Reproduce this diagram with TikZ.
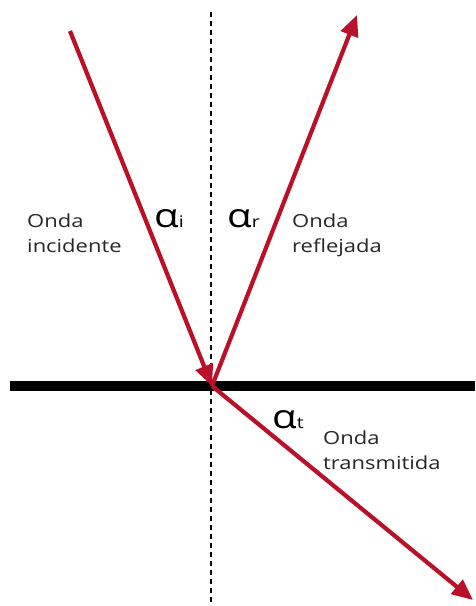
\documentclass[tikz,border=0pt]{standalone}
\usepackage{fontspec}
\newfontfamily\labelfont[FakeStretch=1.22]{Open Sans}
\usepackage{xcolor}
\usetikzlibrary{arrows.meta}
\definecolor{rayred}{RGB}{186,16,42}

\begin{document}
\begin{tikzpicture}[x=1pt,y=-1pt,
  ray/.style={line width=4.2, color=rayred, -{Triangle[length=21,width=18]}},
  wavetext/.style={font=\labelfont\fontsize{18}{25}\selectfont, text=black!85, align=left, anchor=north west, inner sep=0},
  angletext/.style={font=\labelfont, anchor=base west, inner sep=0}]
\useasboundingbox (0,0) rectangle (475,606);
%points
\coordinate (O) at (212,386);
\coordinate (src) at (70,31);
\coordinate (refl) at (357,15);
\coordinate (trans) at (473,600);
\coordinate (top) at (211,12);
\coordinate (bot) at (211,606);
\coordinate (left) at (10,386);
\coordinate (right) at (475,386);
%normal and surface
\draw[line width=1.6, dash pattern=on 5 off 4] (top) -- (bot);
\draw[line width=10] (left) -- (right);
%rays
\draw[ray] (src) -- (O);
\draw[ray] (O) -- (refl);
\draw[ray] (O) -- (trans);
%labels
\node[wavetext] (incL) at (27,214) {Onda\\incidente};
\node[wavetext] (reflL) at (292,214) {Onda\\reflejada};
\node[wavetext] (transL) at (323,431) {Onda\\transmitida};
\node[angletext] (ai) at (154,227) {{\fontsize{33}{33}\selectfont α}{\fontsize{16}{16}\selectfont i}};
\node[angletext] (ar) at (227,227) {{\fontsize{33}{33}\selectfont α}{\fontsize{16}{16}\selectfont r}};
\node[angletext] (at) at (272,428) {{\fontsize{33}{33}\selectfont α}{\fontsize{16}{16}\selectfont t}};
\end{tikzpicture}
\end{document}
